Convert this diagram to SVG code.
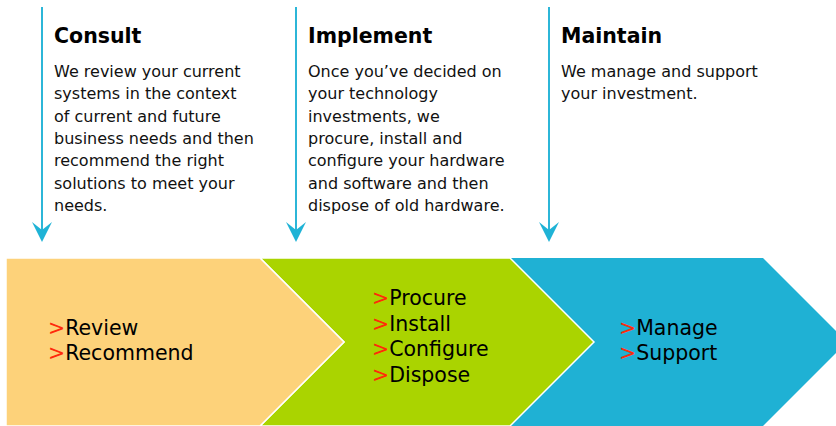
<svg xmlns="http://www.w3.org/2000/svg" width="836" height="426" viewBox="0 0 836 426">
<defs>
<style>
.title{font-family:"DejaVu Sans",Verdana,sans-serif;font-weight:bold;font-size:20.5px;fill:#000}
.body{font-family:"DejaVu Sans",Verdana,sans-serif;font-size:16px;fill:#111}
.item{font-family:"DejaVu Sans",Verdana,sans-serif;font-size:20.5px;fill:#000}
.gt{fill:#ff2a0a}
.line{stroke:#2cb6d8;stroke-width:2;fill:none}
.head{fill:#1fb3d6}
</style>
</defs>
<rect width="836" height="426" fill="#fff"/>
<g id="connectors">
<line class="line" x1="42" y1="7" x2="42" y2="232"/>
<path class="head" d="M32,222 L42,230 L52,222 L42,242 Z"/>
<line class="line" x1="296" y1="7" x2="296" y2="232"/>
<path class="head" d="M286,222 L296,230 L306,222 L296,242 Z"/>
<line class="line" x1="549" y1="7" x2="549" y2="232"/>
<path class="head" d="M539,222 L549,230 L559,222 L549,242 Z"/>
</g>
<g id="consult">
<text class="title" x="54" y="43">Consult</text>
<text class="body" x="54" y="77">We review your current</text>
<text class="body" x="54" y="99.3">systems in the context</text>
<text class="body" x="54" y="121.6">of current and future</text>
<text class="body" x="54" y="144">business needs and then</text>
<text class="body" x="54" y="166.3">recommend the right</text>
<text class="body" x="54" y="188.6">solutions to meet your</text>
<text class="body" x="54" y="211">needs.</text>
</g>
<g id="implement">
<text class="title" x="308" y="43">Implement</text>
<text class="body" x="308" y="77">Once you’ve decided on</text>
<text class="body" x="308" y="99.3">your technology</text>
<text class="body" x="308" y="121.6">investments, we</text>
<text class="body" x="308" y="144">procure, install and</text>
<text class="body" x="308" y="166.3">configure your hardware</text>
<text class="body" x="308" y="188.6">and software and then</text>
<text class="body" x="308" y="211">dispose of old hardware.</text>
</g>
<g id="maintain">
<text class="title" x="561" y="43">Maintain</text>
<text class="body" x="561" y="77">We manage and support</text>
<text class="body" x="561" y="99.3">your investment.</text>
</g>
<g id="stage-maintain">
<path d="M510,258 L763,258 L847,342 L763,426 L510,426 L594,342 Z" fill="#1fb1d4"/>
<text class="item" x="619" y="335"><tspan class="gt">&gt;</tspan>Manage</text>
<text class="item" x="619" y="360"><tspan class="gt">&gt;</tspan>Support</text>
</g>
<g id="stage-implement">
<path d="M260,258 L510,258 L594,342 L510,426 L260,426 L344,342 Z" fill="#aad400" stroke="#fff" stroke-width="1.5"/>
<text class="item" x="372" y="305"><tspan class="gt">&gt;</tspan>Procure</text>
<text class="item" x="372" y="330.5"><tspan class="gt">&gt;</tspan>Install</text>
<text class="item" x="372" y="356"><tspan class="gt">&gt;</tspan>Configure</text>
<text class="item" x="372" y="381.5"><tspan class="gt">&gt;</tspan>Dispose</text>
</g>
<g id="stage-consult">
<path d="M6,258 L260,258 L344,342 L260,426 L6,426 Z" fill="#fdd27a" stroke="#fff" stroke-width="1.5"/>
<text class="item" x="48" y="335"><tspan class="gt">&gt;</tspan>Review</text>
<text class="item" x="48" y="360"><tspan class="gt">&gt;</tspan>Recommend</text>
</g>
</svg>
